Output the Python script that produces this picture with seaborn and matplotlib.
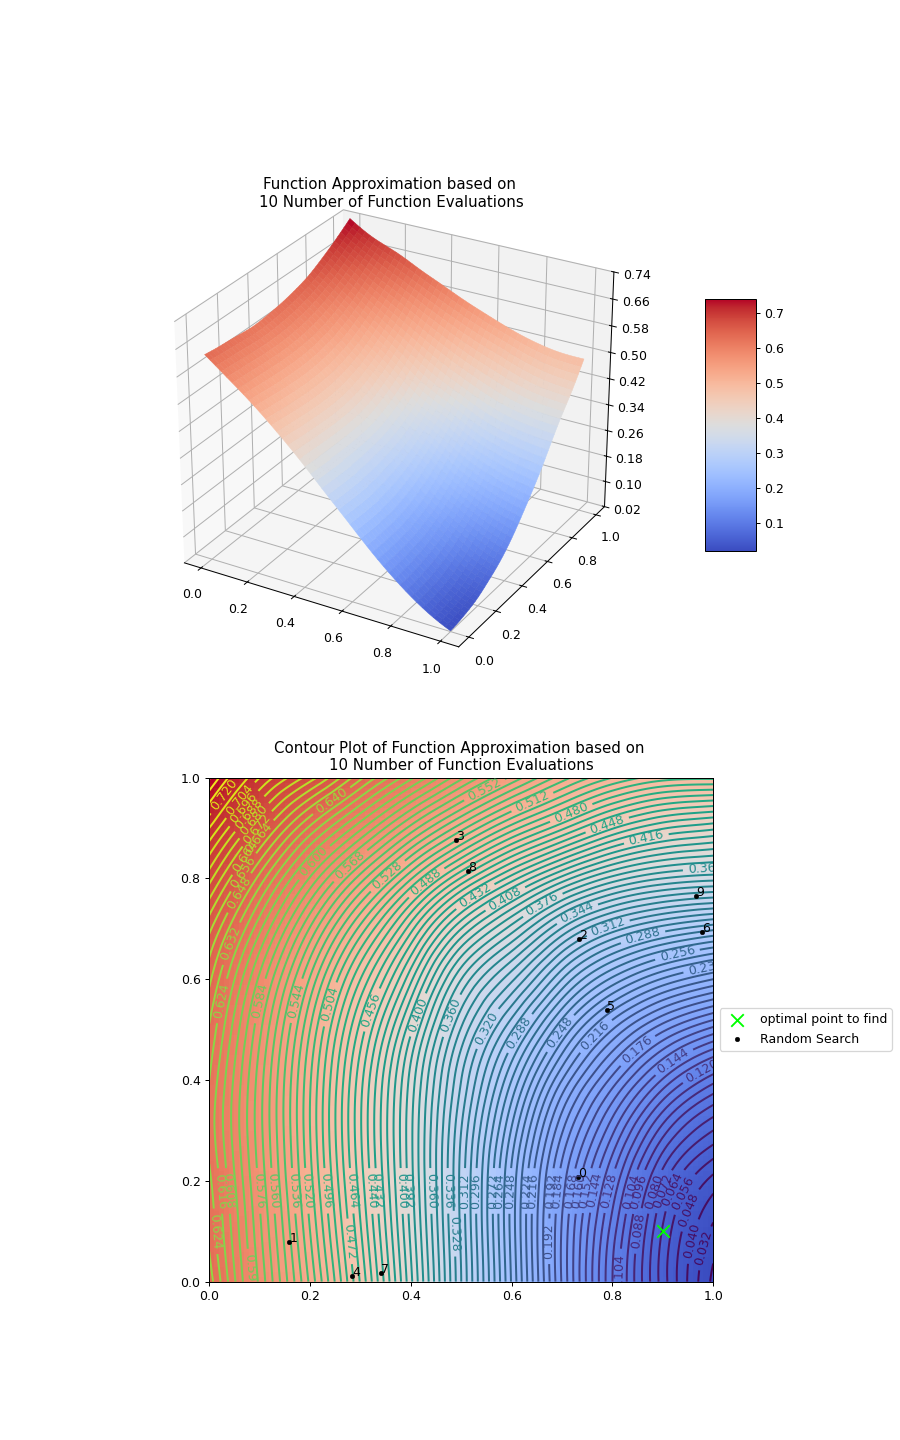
import numpy as np
import matplotlib
matplotlib.use("Agg")
import matplotlib.pyplot as plt
import matplotlib.tri as mtri
from matplotlib.ticker import FixedLocator, FormatStrFormatter
import seaborn as sns

# Approximated objective on a coarse lattice: one row per y, one column per x
grid_x = [0.0, 0.1, 0.2, 0.3, 0.4, 0.5, 0.6, 0.7, 0.8, 0.9, 1.0]
grid_y = [0.0, 0.1, 0.2, 0.3, 0.4, 0.5, 0.6, 0.7, 0.8, 0.9, 1.0]
row_y00 = [0.636, 0.582, 0.526, 0.463, 0.394, 0.320, 0.247, 0.175, 0.112, 0.060, 0.022]
row_y01 = [0.630, 0.578, 0.520, 0.457, 0.390, 0.318, 0.245, 0.175, 0.116, 0.063, 0.030]
row_y02 = [0.626, 0.574, 0.515, 0.452, 0.387, 0.317, 0.246, 0.180, 0.127, 0.075, 0.045]
row_y03 = [0.621, 0.571, 0.512, 0.449, 0.386, 0.320, 0.255, 0.193, 0.146, 0.100, 0.072]
row_y04 = [0.624, 0.572, 0.513, 0.451, 0.389, 0.328, 0.272, 0.216, 0.173, 0.135, 0.107]
row_y05 = [0.631, 0.578, 0.520, 0.461, 0.402, 0.343, 0.297, 0.248, 0.208, 0.178, 0.157]
row_y06 = [0.642, 0.590, 0.535, 0.480, 0.426, 0.368, 0.330, 0.288, 0.254, 0.231, 0.216]
row_y07 = [0.658, 0.610, 0.559, 0.509, 0.459, 0.408, 0.372, 0.335, 0.308, 0.292, 0.282]
row_y08 = [0.683, 0.637, 0.591, 0.548, 0.505, 0.463, 0.428, 0.397, 0.373, 0.360, 0.355]
row_y09 = [0.712, 0.670, 0.630, 0.594, 0.557, 0.523, 0.492, 0.466, 0.441, 0.425, 0.418]
row_y10 = [0.745, 0.704, 0.676, 0.642, 0.610, 0.578, 0.550, 0.524, 0.504, 0.492, 0.490]

# Vertical axis ticks of the surface
z_ticks = [0.02, 0.10, 0.18, 0.26, 0.34, 0.42, 0.50, 0.58, 0.66, 0.74]

# Evaluated random-search points and the target optimum
search_x = [0.732, 0.159, 0.734, 0.490, 0.284, 0.790, 0.978, 0.341, 0.514, 0.966]
search_y = [0.208, 0.079, 0.679, 0.877, 0.012, 0.538, 0.694, 0.018, 0.815, 0.766]
optimum_x = [0.9]
optimum_y = [0.1]

title_surface = "Function Approximation based on \n10 Number of Function Evaluations"
title_contour = "Contour Plot of Function Approximation based on \n10 Number of Function Evaluations"

# Where the inline contour labels sit
label_spots = [
    (0.032, 0.964), (0.056, 0.960), (0.062, 0.944), (0.071, 0.935), (0.081, 0.921),
    (0.087, 0.905), (0.093, 0.885), (0.077, 0.849), (0.071, 0.810), (0.062, 0.770),
    (0.240, 0.958), (0.210, 0.830), (0.280, 0.825), (0.353, 0.806), (0.432, 0.790),
    (0.524, 0.770), (0.587, 0.760), (0.660, 0.750), (0.730, 0.730), (0.792, 0.700),
    (0.860, 0.686), (0.928, 0.653), (0.985, 0.623), (0.985, 0.820), (0.868, 0.875),
    (0.790, 0.905), (0.716, 0.935), (0.640, 0.954), (0.544, 0.980),
    (0.045, 0.670), (0.025, 0.557), (0.100, 0.557), (0.174, 0.557), (0.240, 0.550),
    (0.320, 0.540), (0.412, 0.530), (0.475, 0.530), (0.555, 0.500), (0.620, 0.490),
    (0.700, 0.490), (0.770, 0.484), (0.845, 0.464), (0.918, 0.442), (0.980, 0.415),
    (0.023, 0.180), (0.038, 0.180), (0.096, 0.180), (0.124, 0.180), (0.165, 0.180),
    (0.192, 0.180), (0.230, 0.180), (0.280, 0.180), (0.325, 0.180), (0.335, 0.180),
    (0.385, 0.180), (0.395, 0.180), (0.443, 0.180), (0.468, 0.180), (0.510, 0.180),
    (0.525, 0.180), (0.560, 0.180), (0.570, 0.180), (0.594, 0.180), (0.627, 0.180),
    (0.638, 0.180), (0.677, 0.180), (0.690, 0.180), (0.716, 0.180), (0.730, 0.180),
    (0.752, 0.180), (0.770, 0.180), (0.796, 0.180), (0.832, 0.180), (0.845, 0.180),
    (0.879, 0.180), (0.898, 0.180), (0.925, 0.180), (0.940, 0.175),
    (0.015, 0.100), (0.080, 0.020), (0.280, 0.080), (0.484, 0.095), (0.670, 0.080),
    (0.815, 0.020), (0.855, 0.100), (0.958, 0.140), (0.958, 0.080), (0.980, 0.067),
]

z_table = np.array([row_y00, row_y01, row_y02, row_y03, row_y04, row_y05,
                    row_y06, row_y07, row_y08, row_y09, row_y10])
lat_x, lat_y = np.meshgrid(grid_x, grid_y)
triangulation = mtri.Triangulation(lat_x.ravel(), lat_y.ravel())
smooth_field = mtri.CubicTriInterpolator(triangulation, z_table.ravel(), kind="min_E")


def sample_field(n):
    xs, ys = np.meshgrid(np.linspace(0, 1, n), np.linspace(0, 1, n))
    zs = np.ma.filled(smooth_field(xs, ys), np.nan)
    return xs, ys, zs


coolwarm = sns.color_palette("coolwarm", as_cmap=True)
viridis = sns.color_palette("viridis", as_cmap=True)

fig = plt.figure(figsize=(10, 16), dpi=90)

# Upper panel: surface with colour bar
ax3d = fig.add_subplot(2, 1, 1, projection="3d")
X, Y, Z = sample_field(45)
surf = ax3d.plot_surface(X, Y, Z, cmap=coolwarm, vmin=z_ticks[0], vmax=z_ticks[-1],
                         linewidth=0, antialiased=True, rstride=1, cstride=1)
# Hairline edges in each facet's own colour close the seams between facets
surf.set_edgecolor(surf.to_rgba(surf.get_array()))
surf.set_linewidth(0.4)
ax3d.view_init(elev=27.5, azim=-60)
ax3d.set_zlim(z_ticks[0], z_ticks[-1])
ax3d.zaxis.set_major_locator(FixedLocator(z_ticks))
ax3d.zaxis.set_major_formatter(FormatStrFormatter("%.02f"))
ax3d.set_box_aspect((4, 4, 3.41), zoom=1.0)
ax3d.set_title(title_surface, y=0.998)
fig.colorbar(surf, ax=ax3d, shrink=0.5, aspect=5, use_gridspec=False)
box = ax3d.get_position()
ax3d.set_position([box.x0 - 27 / 900, box.y0, box.width, box.height])

# Lower panel: image, contour lines and evaluated points
ax2d = fig.add_subplot(2, 1, 2)
Xc, Yc, Zc = sample_field(100)
ax2d.imshow(Zc, extent=[0, 1, 0, 1], origin="lower", cmap=coolwarm, aspect="equal")
lines = ax2d.contour(Xc, Yc, Zc, levels=90, cmap=viridis, linewidths=1.6)
ax2d.set_xlim(0, 1)
ax2d.set_ylim(0, 1)
fig.canvas.draw()
ax2d.clabel(lines, inline=True, fontsize=10, fmt="%1.3f", manual=label_spots)
sns.scatterplot(x=optimum_x, y=optimum_y, ax=ax2d, marker="x", color="lime", s=100,
                linewidth=1.5, label="optimal point to find", zorder=3)
sns.scatterplot(x=search_x, y=search_y, ax=ax2d, color="black", s=14, edgecolor="black",
                label="Random Search", zorder=3)
for i, (px, py) in enumerate(zip(search_x, search_y)):
    ax2d.annotate(str(i), (px, py), color="black", fontsize=10, zorder=4)
ax2d.set_title(title_contour)
ax2d.legend(loc="center left", bbox_to_anchor=(1.0, 0.5))

fig.savefig("out.png", dpi=90)
